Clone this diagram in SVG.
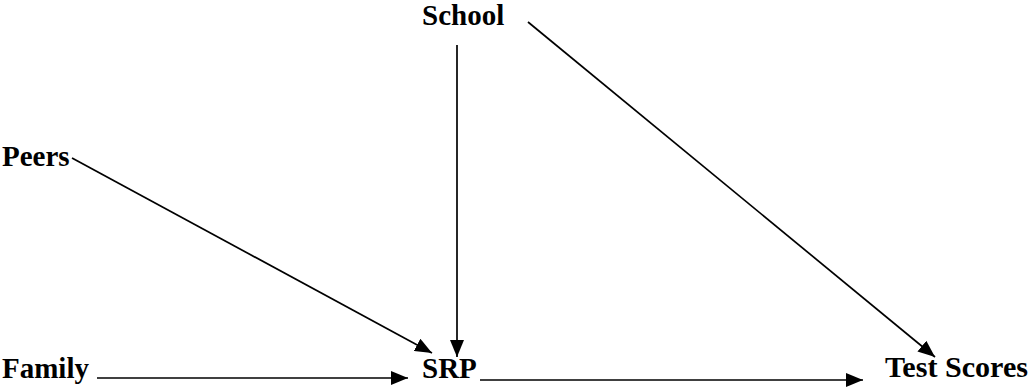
<svg xmlns="http://www.w3.org/2000/svg" width="1029" height="387" viewBox="0 0 1029 387">
<style>
text{font-family:"Liberation Serif","Times New Roman",serif;font-weight:bold;font-size:29px;fill:#000}
.c line{stroke:#000;stroke-width:1.7;fill:none}
</style>
<defs>
<marker id="ah" markerUnits="userSpaceOnUse" markerWidth="18" markerHeight="14" refX="17" refY="7" orient="auto">
<path d="M0,0 L17,7 L0,14 Z" fill="#000"/>
</marker>
</defs>
<rect width="1029" height="387" fill="#fff"/>
<g id="school"><text x="422" y="25">School</text></g>
<g id="peers"><text x="2" y="166">Peers</text></g>
<g id="family"><text x="2" y="378">Family</text></g>
<g id="srp"><text x="422" y="378">SRP</text></g>
<g id="test"><text x="885" y="377" textLength="143" lengthAdjust="spacingAndGlyphs">Test Scores</text></g>
<g class="c" id="connectors">
<line x1="97" y1="378" x2="408" y2="378" marker-end="url(#ah)"/>
<line x1="480" y1="380" x2="863" y2="380" marker-end="url(#ah)"/>
<line x1="457" y1="45" x2="457" y2="357" marker-end="url(#ah)"/>
<line x1="528" y1="22" x2="935" y2="357" marker-end="url(#ah)"/>
<line x1="72" y1="158" x2="432" y2="353" marker-end="url(#ah)"/>
</g>
</svg>
